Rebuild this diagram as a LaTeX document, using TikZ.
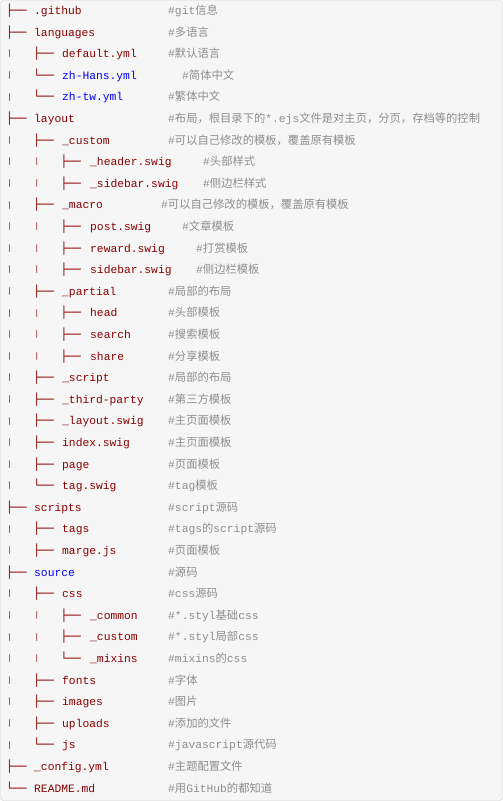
\documentclass[tikz,border=0pt]{standalone}
\usepackage{fontspec}
\usepackage{tikz}
\setmonofont{Liberation Mono}
\newfontfamily\treefont{DejaVu Sans Mono}
\newfontfamily\cjk{Noto Sans CJK SC}
\definecolor{nameRed}{HTML}{8A0000}
\definecolor{nameBlue}{HTML}{0000FF}
\definecolor{noteGray}{HTML}{8E8E8E}
\definecolor{boxBg}{HTML}{F6F6F6}
\definecolor{boxLine}{HTML}{CCCCCC}
\newcommand{\vbar}{\makebox[6.8pt]{\raisebox{1.8pt}{\fontsize{7.5}{8}\selectfont|}}}
\tikzstyle{treeTxt} = [anchor=base west, inner sep=0pt, text=nameRed, font=\fontsize{11.3}{13}\selectfont\treefont]
\tikzstyle{fileTxt} = [anchor=base west, inner sep=0pt, text=nameRed, font=\fontsize{11.3}{13}\selectfont\ttfamily]
\tikzstyle{noteTxt} = [anchor=base west, inner sep=0pt, text=noteGray, font=\fontsize{11.3}{13}\selectfont\ttfamily]
\begin{document}
\begin{tikzpicture}[x=1pt,y=-1pt]
        \useasboundingbox (0,0) rectangle (503,801);
        \draw [fill=boxBg, draw=boxLine, rounded corners=3pt] (0.5,0.5) rectangle (502.5,800.5);

        \foreach \i/\pre/\fx/\fname/\nx/\note in {
            1/├──/34/.github/168/{\#git{\cjk 信息}},
            2/├──/34/languages/168/{\#{\cjk 多语言}},
            3/\vbar~~~├──/62/default.yml/168/{\#{\cjk 默认语言}},
            4/\vbar~~~└──/62/{\color{nameBlue}zh-Hans.yml}/182/{\#{\cjk 简体中文}},
            5/\vbar~~~└──/62/{\color{nameBlue}zh-tw.yml}/168/{\#{\cjk 繁体中文}},
            6/├──/34/layout/168/{\#{\cjk 布局，根目录下的}*.ejs{\cjk 文件是对主页，分页，存档等的控制}},
            7/\vbar~~~├──/62/\_custom/168/{\#{\cjk 可以自己修改的模板，覆盖原有模板}},
            8/\vbar~~~\vbar~~~├──/90/\_header.swig/203/{\#{\cjk 头部样式}},
            9/\vbar~~~\vbar~~~├──/90/\_sidebar.swig/203/{\#{\cjk 侧边栏样式}},
            10/\vbar~~~├──/62/\_macro/161/{\#{\cjk 可以自己修改的模板，覆盖原有模板}},
            11/\vbar~~~\vbar~~~├──/90/post.swig/182/{\#{\cjk 文章模板}},
            12/\vbar~~~\vbar~~~├──/90/reward.swig/196/{\#{\cjk 打赏模板}},
            13/\vbar~~~\vbar~~~├──/90/sidebar.swig/196/{\#{\cjk 侧边栏模板}},
            14/\vbar~~~├──/62/\_partial/168/{\#{\cjk 局部的布局}},
            15/\vbar~~~\vbar~~~├──/90/head/168/{\#{\cjk 头部模板}},
            16/\vbar~~~\vbar~~~├──/90/search/168/{\#{\cjk 搜索模板}},
            17/\vbar~~~\vbar~~~├──/90/share/168/{\#{\cjk 分享模板}},
            18/\vbar~~~├──/62/\_script/168/{\#{\cjk 局部的布局}},
            19/\vbar~~~├──/62/\_third-party/168/{\#{\cjk 第三方模板}},
            20/\vbar~~~├──/62/\_layout.swig/168/{\#{\cjk 主页面模板}},
            21/\vbar~~~├──/62/index.swig/168/{\#{\cjk 主页面模板}},
            22/\vbar~~~├──/62/page/168/{\#{\cjk 页面模板}},
            23/\vbar~~~└──/62/tag.swig/168/{\#tag{\cjk 模板}},
            24/├──/34/scripts/168/{\#script{\cjk 源码}},
            25/\vbar~~~├──/62/tags/168/{\#tags{\cjk 的}script{\cjk 源码}},
            26/\vbar~~~├──/62/marge.js/168/{\#{\cjk 页面模板}},
            27/├──/34/{\color{nameBlue}source}/168/{\#{\cjk 源码}},
            28/\vbar~~~├──/62/css/168/{\#css{\cjk 源码}},
            29/\vbar~~~\vbar~~~├──/90/\_common/168/{\#*.styl{\cjk 基础}css},
            30/\vbar~~~\vbar~~~├──/90/\_custom/168/{\#*.styl{\cjk 局部}css},
            31/\vbar~~~\vbar~~~└──/90/\_mixins/168/{\#mixins{\cjk 的}css},
            32/\vbar~~~├──/62/fonts/168/{\#{\cjk 字体}},
            33/\vbar~~~├──/62/images/168/{\#{\cjk 图片}},
            34/\vbar~~~├──/62/uploads/168/{\#{\cjk 添加的文件}},
            35/\vbar~~~└──/62/js/168/{\#javascript{\cjk 源代码}},
            36/├──/34/\_config.yml/168/{\#{\cjk 主题配置文件}},
            37/└──/34/README.md/168/{\#{\cjk 用}GitHub{\cjk 的都知道}}}
        {
            \node (tree\i) [treeTxt] at (6,{\i*21.6-7.1}) {\pre};
            \node (file\i) [fileTxt] at (\fx,{\i*21.6-7.1}) {\fname};
            \node (note\i) [noteTxt] at (\nx,{\i*21.6-7.1}) {\note};
        }
    \end{tikzpicture}
\end{document}
